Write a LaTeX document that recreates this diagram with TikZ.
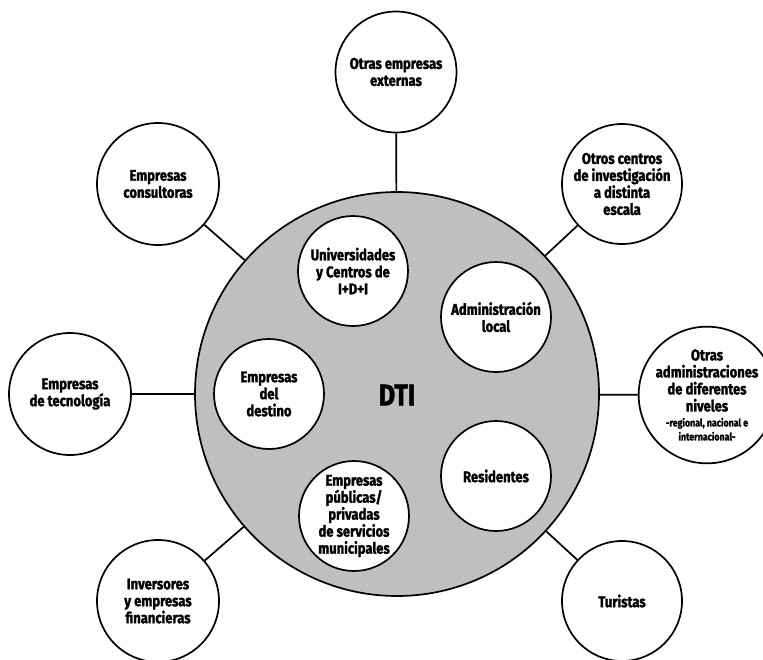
\documentclass[tikz,border=0pt]{standalone}
\usepackage{fontspec}
\setmainfont{Fira Sans}[FakeStretch=0.84,BoldFeatures={FakeBold=1.6}]
\begin{document}
\begin{tikzpicture}[x=1pt,y=-1pt,
  bub/.style={circle,draw=black,line width=1.7pt,fill=white,inner sep=0pt,align=center,
    font=\bfseries\fontsize{15.5}{17}\selectfont},
  link/.style={line width=1.7pt}]
\useasboundingbox (0,0) rectangle (763,659);
% central
\node[circle,draw=black,line width=1.7pt,fill=black!25,minimum size=404pt,inner sep=0pt] (dti) at (397,394) {};
\node[font=\bfseries\fontsize{30}{30}\selectfont] (dtil) at (397,395) {DTI};
% outer
\node[bub,minimum size=121pt] (top) at (396,72) {Otras empresas\\externas};
\node[bub,minimum size=122pt] (cons) at (158,184) {Empresas\\consultoras};
\node[bub,minimum size=120pt] (otros) at (622,184) {Otros centros\\de investigación\\a distinta\\escala};
\node[bub,minimum size=122pt] (tec) at (70,394) {Empresas\\de tecnología};
\node[bub,minimum size=116pt] (adm) at (707,395) {Otras\\administraciones\\de diferentes\\niveles\\[-2pt]{\fontsize{10.5}{12}\selectfont -regional, nacional e}\\[-3pt]{\fontsize{10.5}{12}\selectfont internacional-}};
\node[bub,minimum size=122pt] (inv) at (158,601) {Inversores\\y empresas\\financieras};
\node[bub,minimum size=120pt] (tur) at (622,601) {Turistas};
% inner
\node[bub,minimum size=110pt] (univ) at (353,271) {Universidades\\y Centros de\\I+D+I};
\node[bub,minimum size=110pt] (admloc) at (496,317) {Administración\\local};
\node[bub,minimum size=110pt] (dest) at (269,394) {Empresas\\del\\destino};
\node[bub,minimum size=110pt] (res) at (496,476) {Residentes};
\node[bub,minimum size=110pt] (pub) at (354,516) {Empresas\\públicas/\\privadas\\de servicios\\municipales};
% links
\foreach \n in {top,cons,otros,tec,adm,inv,tur}
  \draw[link] (dti) -- (\n);
\end{tikzpicture}
\end{document}
